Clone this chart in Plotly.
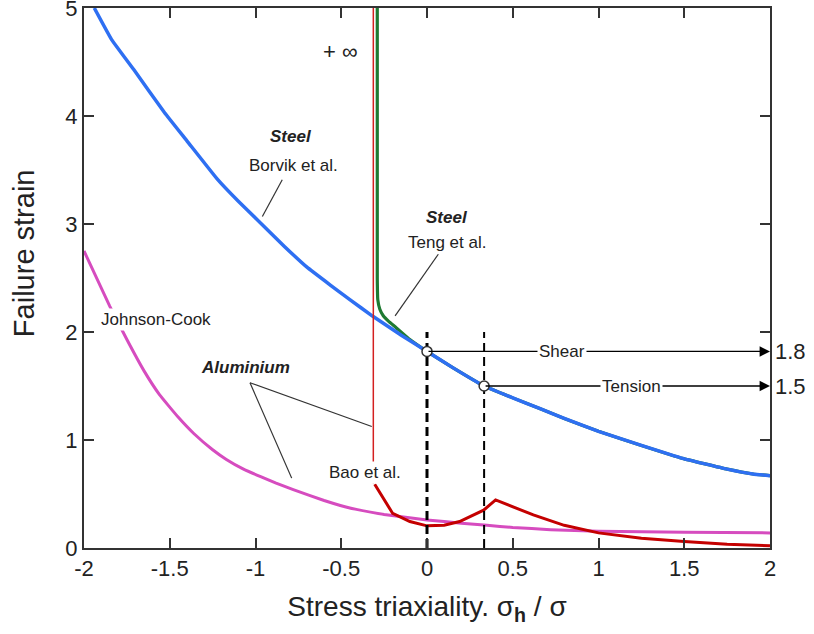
import plotly.graph_objects as go

# ---------------- data ----------------
borvik_x = [-1.94, -1.84, -1.71, -1.53, -1.4, -1.22, -1.1, -0.99, -0.83, -0.7, -0.56, -0.45, -0.32,
            -0.15, 0.0, 0.15, 0.333, 0.5, 0.66, 0.8, 1.0, 1.25, 1.49, 1.75, 1.9, 2.0]
borvik_y = [5.0, 4.71, 4.43, 4.03, 3.77, 3.41, 3.21, 3.04, 2.79, 2.60, 2.43, 2.30, 2.15,
            1.97, 1.82, 1.67, 1.50, 1.39, 1.29, 1.20, 1.08, 0.95, 0.83, 0.73, 0.685, 0.67]

teng_x = [-0.29, -0.29, -0.287, -0.275, -0.255, -0.225, -0.18, -0.1, 0.0, 0.15, 0.333, 0.5, 0.66,
          0.8, 1.0, 1.25, 1.49, 1.75, 1.9, 2.0]
teng_y = [5.0, 2.5, 2.3, 2.21, 2.15, 2.1, 2.04, 1.93, 1.82, 1.67, 1.50, 1.39, 1.29,
          1.20, 1.08, 0.95, 0.83, 0.73, 0.685, 0.67]

jc_x = [-2.0, -1.85, -1.75, -1.65, -1.56, -1.45, -1.36, -1.25, -1.17, -1.07, -0.97, -0.88, -0.78,
        -0.6, -0.45, -0.25, 0.0, 0.2, 0.35, 0.5, 0.72, 1.0, 1.5, 2.0]
jc_y = [2.75, 2.24, 1.93, 1.64, 1.42, 1.21, 1.06, 0.91, 0.82, 0.73, 0.66, 0.60, 0.54,
        0.44, 0.37, 0.31, 0.26, 0.23, 0.21, 0.19, 0.17, 0.155, 0.145, 0.14]

bao_inf_x = [-0.313, -0.313]
bao_inf_y = [5.0, 0.6]
bao_x = [-0.305, -0.25, -0.2, -0.1, 0.0, 0.1, 0.19, 0.33, 0.40, 0.62, 0.8, 1.0, 1.25, 1.5, 1.75, 2.0]
bao_y = [0.59, 0.45, 0.32, 0.245, 0.205, 0.21, 0.245, 0.35, 0.445, 0.306, 0.21, 0.14, 0.09, 0.06, 0.035, 0.02]

ref_x = [0.0, 0.333]
ref_y = [1.82, 1.5]
ref_labels = ["Shear", "Tension"]
ref_label_x = [0.787, 1.19]
ref_values = ["1.8", "1.5"]
ref_top = 2.0

x_ticks = [-2, -1.5, -1, -0.5, 0, 0.5, 1, 1.5, 2]
x_ticklabels = ["-2", "-1.5", "-1", "-0.5", "0", "0.5", "1", "1.5", "2"]
y_ticks = [0, 1, 2, 3, 4, 5]

FONT = "Arial, Liberation Sans, sans-serif"
TXT = "#222"

fig = go.Figure()

fig.add_trace(go.Scatter(x=teng_x, y=teng_y, mode="lines",
                         line=dict(color="#1f7a32", width=3.2, shape="spline", smoothing=0.3),
                         showlegend=False))
fig.add_trace(go.Scatter(x=borvik_x, y=borvik_y, mode="lines",
                         line=dict(color="#2e6ff2", width=3.5, shape="spline", smoothing=0.3),
                         showlegend=False))
fig.add_trace(go.Scatter(x=jc_x, y=jc_y, mode="lines",
                         line=dict(color="#d64cbf", width=3, shape="spline", smoothing=0.3),
                         showlegend=False))
fig.add_trace(go.Scatter(x=bao_inf_x, y=bao_inf_y, mode="lines",
                         line=dict(color="#d42020", width=1.5), showlegend=False))
fig.add_trace(go.Scatter(x=bao_x, y=bao_y, mode="lines",
                         line=dict(color="#c40000", width=3), showlegend=False))

fig.add_trace(go.Scatter(x=[ref_x[0], ref_x[0]], y=[0, ref_top], mode="lines",
                         line=dict(color="black", width=3, dash="9px,5px"), showlegend=False))
fig.add_trace(go.Scatter(x=[ref_x[1], ref_x[1]], y=[0, ref_top], mode="lines",
                         line=dict(color="black", width=2, dash="9px,5px"), showlegend=False))

annotations = []
for xv, yv, lab, val, lx in zip(ref_x, ref_y, ref_labels, ref_values, ref_label_x):
    annotations.append(dict(x=2.0, y=yv, ax=xv, ay=yv, xref="x", yref="y", axref="x", ayref="y",
                            text="", showarrow=True, arrowhead=2, arrowsize=1.6, arrowwidth=1.3,
                            arrowcolor="black"))
    annotations.append(dict(x=lx, y=yv, xref="x", yref="y", text=lab, showarrow=False,
                            bgcolor="white", font=dict(size=17, color=TXT, family=FONT)))
    annotations.append(dict(x=2.0, y=yv, xref="x", yref="y", text=val, showarrow=False,
                            xanchor="left", xshift=3, font=dict(size=22, color=TXT, family=FONT)))

fig.add_trace(go.Scatter(x=ref_x, y=ref_y, mode="markers",
                         marker=dict(symbol="circle", size=10, color="white",
                                     line=dict(color="#333", width=1.5)), showlegend=False))

def txt(x, y, s, size=17, bold_it=False, bg=None):
    d = dict(x=x, y=y, xref="x", yref="y", showarrow=False,
             text=("<b><i>%s</i></b>" % s) if bold_it else s,
             font=dict(size=size, color=TXT, family=FONT))
    if bg:
        d["bgcolor"] = bg
    annotations.append(d)

txt(-0.503, 4.60, "+ ∞", size=22)
txt(-0.795, 3.81, "Steel", bold_it=True)
txt(-0.776, 3.54, "Borvik et al.")
txt(0.115, 3.06, "Steel", bold_it=True)
txt(0.115, 2.83, "Teng et al.")
txt(-1.582, 2.12, "Johnson-Cook", bg="white")
txt(-1.061, 1.67, "Aluminium", bold_it=True)
txt(-0.362, 0.70, "Bao et al.", bg="white")

# y-axis title placed as annotation
annotations.append(dict(x=-0.0875, y=0.546, xref="paper", yref="paper", text="Failure strain",
                        textangle=-90, showarrow=False, xanchor="center", yanchor="middle",
                        font=dict(size=29, color=TXT, family=FONT)))

pointers = [
    ((-0.844, 3.41), (-0.96, 3.07)),
    ((0.066, 2.72), (-0.186, 2.15)),
    ((-1.032, 1.53), (-0.322, 1.125)),
    ((-1.032, 1.53), (-0.789, 0.647)),
]
for (x0, y0), (x1, y1) in pointers:
    fig.add_shape(type="line", x0=x0, y0=y0, x1=x1, y1=y1, xref="x", yref="y",
                  line=dict(color="#333", width=1.2))

fig.update_layout(
    width=814, height=634,
    margin=dict(l=84, r=44, t=8, b=86, autoexpand=False),
    paper_bgcolor="white", plot_bgcolor="white",
    font=dict(family=FONT, color=TXT),
    annotations=annotations,
    showlegend=False,
)
fig.update_xaxes(range=[-2, 2], tickvals=x_ticks, ticktext=x_ticklabels,
                 ticks="inside", ticklen=10, tickwidth=1.5, tickcolor="#333",
                 showline=True, linecolor="#333", linewidth=2, mirror="ticks",
                 showgrid=False, zeroline=False, ticklabeloverflow="allow",
                 tickfont=dict(size=22, family=FONT, color=TXT),
                 title=dict(text="Stress triaxiality. σ<sub><b>h</b></sub> / σ",
                            font=dict(size=28, family=FONT, color=TXT), standoff=16))
fig.update_yaxes(range=[0, 5], tickvals=y_ticks,
                 ticks="inside", ticklen=10, tickwidth=1.5, tickcolor="#333",
                 showline=True, linecolor="#333", linewidth=2, mirror="ticks",
                 showgrid=False, zeroline=False, ticklabeloverflow="allow",
                 tickfont=dict(size=22, family=FONT, color=TXT))

fig.write_html("out.html", config={"displayModeBar": False},
               post_script="document.body.style.margin='0px';")
